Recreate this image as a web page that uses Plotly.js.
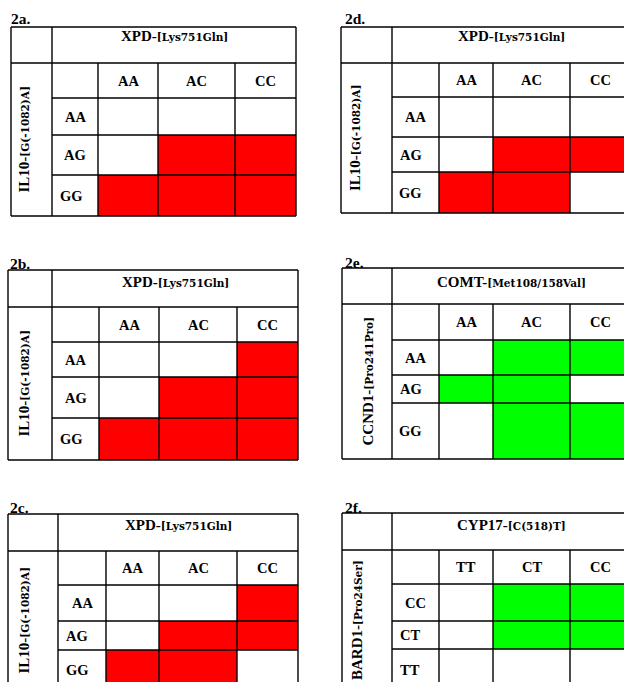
<!DOCTYPE html>
<html>
<head>
<meta charset="utf-8">
<script src="https://cdn.plot.ly/plotly-3.0.1.min.js"></script>
<style>html,body{margin:0;padding:0;background:#fff;}#chart{width:624px;height:682px;}</style>
</head>
<body>
<div id="chart"></div>
<script>
// ---------- DATA ----------
const panelLabels = ['2a.', '2b.', '2c.', '2d.', '2e.', '2f.'];
const colGenes = ['XPD-', 'XPD-', 'XPD-', 'XPD-', 'COMT-', 'CYP17-'];
const colVariants = ['[Lys751Gln]', '[Lys751Gln]', '[Lys751Gln]', '[Lys751Gln]', '[Met108/158Val]', '[C(518)T]'];
const rowGenes = ['IL10-', 'IL10-', 'IL10-', 'IL10-', 'CCND1-', 'BARD1-'];
const rowVariants = ['[G(-1082)A]', '[G(-1082)A]', '[G(-1082)A]', '[G(-1082)A]', '[Pro241Pro]', '[Pro24Ser]'];
const colGenotypes = [
  ['AA', 'AC', 'CC'], ['AA', 'AC', 'CC'], ['AA', 'AC', 'CC'],
  ['AA', 'AC', 'CC'], ['AA', 'AC', 'CC'], ['TT', 'CT', 'CC']
];
const rowGenotypes = [
  ['AA', 'AG', 'GG'], ['AA', 'AG', 'GG'], ['AA', 'AG', 'GG'],
  ['AA', 'AG', 'GG'], ['AA', 'AG', 'GG'], ['CC', 'CT', 'TT']
];
// 1 = highlighted (significant) combination, rows x columns
const sig2a = [[0, 0, 0], [0, 1, 1], [1, 1, 1]];
const sig2b = [[0, 0, 1], [0, 1, 1], [1, 1, 1]];
const sig2c = [[0, 0, 1], [0, 1, 1], [1, 1, 0]];
const sig2d = [[0, 0, 0], [0, 1, 1], [1, 1, 0]];
const sig2e = [[0, 1, 1], [1, 1, 0], [0, 1, 1]];
const sig2f = [[0, 1, 1], [0, 1, 1], [0, 0, 0]];
const significance = [sig2a, sig2b, sig2c, sig2d, sig2e, sig2f];

// ---------- LAYOUT / STYLE (positions in page pixels) ----------
const geom = [
  {cols: [11, 52, 98, 158, 235, 296],  rows: [27, 63, 98, 135, 175, 216],  lab: [9, 18],  hy: 36,  lx: 23,  rdx: [0, 0, -4],  color: '#ff0000'},
  {cols: [8, 52, 99, 159, 237, 298],   rows: [270, 307, 342, 377, 418, 460], lab: [8, 263], hy: 282, lx: 23,  rdx: [0, 0, -4],  color: '#ff0000'},
  {cols: [8, 58, 106, 159, 237, 298],  rows: [514, 551, 585, 621, 650, 690], lab: [8, 507], hy: 525, lx: 23,  rdx: [0, -5, -5], color: '#ff0000'},
  {cols: [341, 392, 439, 493, 570, 631], rows: [27, 63, 97, 137, 172, 213], lab: [343, 18], hy: 36, lx: 355, rdx: [0, -5, -5], color: '#ff0000'},
  {cols: [342, 392, 439, 493, 570, 631], rows: [268, 304, 340, 375, 403, 459], lab: [343, 262], hy: 282, lx: 367, rdx: [0, -5, -5], color: '#00ff00'},
  {cols: [342, 392, 439, 493, 570, 631], rows: [513, 550, 584, 621, 649, 690], lab: [343, 507], hy: 525, lx: 357, rdx: [0, -6, -6], color: '#00ff00'}
];

const FONT = 'Liberation Serif, Times New Roman, serif';
const SMALL = 'font-family:DejaVu Serif;font-size:10.5px;font-weight:bold';
const traces = [];
const shapes = [];
const annotations = [];
const LW = 1.4;

function line(x0, y0, x1, y1) {
  shapes.push({type: 'line', xref: 'x', yref: 'y', x0: x0, y0: y0, x1: x1, y1: y1,
    line: {color: '#000', width: LW}});
}
function ann(x, y, text, size, opts) {
  annotations.push(Object.assign({xref: 'x', yref: 'y', x: x, y: y, text: text, showarrow: false,
    xanchor: 'center', yanchor: 'middle',
    font: {family: FONT, size: size, color: '#000', weight: 'bold'}}, opts || {}));
}

for (let p = 0; p < 6; p++) {
  const g = geom[p], c = g.cols, r = g.rows;
  // highlighted cells as a heatmap with brick edges
  traces.push({
    type: 'heatmap', x: c.slice(2), y: r.slice(2), z: significance[p],
    zmin: 0, zmax: 1, colorscale: [[0, '#ffffff'], [1, g.color]],
    showscale: false, hoverinfo: 'skip', xgap: 0, ygap: 0
  });
  // grid
  line(c[0], r[0], c[5], r[0]);
  line(c[0], r[5], c[5], r[5]);
  line(c[0], r[0], c[0], r[5]);
  line(c[5], r[0], c[5], r[5]);
  line(c[1], r[0], c[1], r[5]);
  line(c[0], r[1], c[5], r[1]);
  for (let k = 2; k <= 4; k++) line(c[k], r[1], c[k], r[5]);
  for (let k = 2; k <= 4; k++) line(c[1], r[k], c[5], r[k]);
  // texts
  ann(g.lab[0], g.lab[1], panelLabels[p], 15.5, {xanchor: 'left'});
  ann((c[1] + c[5]) / 2, g.hy, colGenes[p] + '<span style="' + SMALL + '">' + colVariants[p] + '</span>', 15);
  for (let j = 0; j < 3; j++) {
    ann((c[j + 2] + c[j + 3]) / 2, (r[1] + r[2]) / 2, colGenotypes[p][j], 14.5);
    ann((c[1] + c[2]) / 2 + g.rdx[j], (r[j + 2] + r[j + 3]) / 2, rowGenotypes[p][j], 14.5);
  }
  ann(g.lx, (r[1] + r[5]) / 2, rowGenes[p] + '<span style="' + SMALL + '">' + rowVariants[p] + '</span>', 15, {textangle: -90});
}

const layout = {
  width: 624, height: 682,
  margin: {l: 0, r: 0, t: 0, b: 0},
  paper_bgcolor: '#fff', plot_bgcolor: '#fff',
  showlegend: false,
  xaxis: {range: [0, 624], visible: false, fixedrange: true},
  yaxis: {range: [682, 0], visible: false, fixedrange: true},
  shapes: shapes,
  annotations: annotations
};
Plotly.newPlot('chart', traces, layout, {displayModeBar: false, staticPlot: true});
</script>
</body>
</html>
